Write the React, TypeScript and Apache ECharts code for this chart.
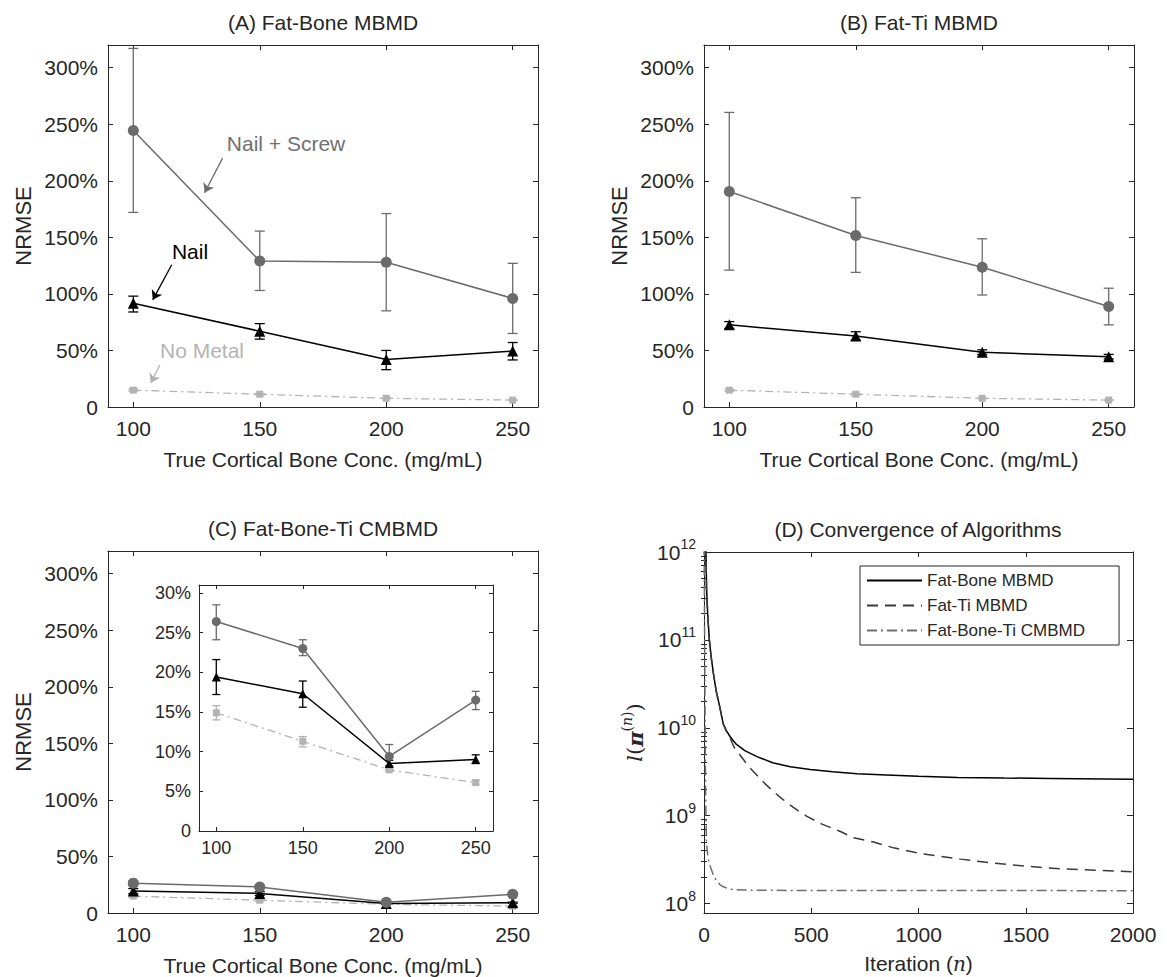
import React, { useEffect, useRef } from 'react';
import * as echarts from 'echarts';

// ---------- data ----------
const concentrations = [100, 150, 200, 250];
const pctTicks = [0, 50, 100, 150, 200, 250, 300];
const insetTicks = [0, 5, 10, 15, 20, 25, 30];
const logMajorTicks = [1e8, 1e9, 1e10, 1e11, 1e12];

// (A) Fat-Bone MBMD  (NRMSE %)
const aNailScrew = [244.5, 129, 128, 96];
const aNailScrewLow = [172, 103, 85, 65];
const aNailScrewHigh = [317, 155.5, 171, 127];
const aNail = [91.8, 67, 42, 49.5];
const aNailLow = [84, 60, 33, 41.6];
const aNailHigh = [98, 73.7, 50, 57];
const aNoMetal = [14.9, 11.3, 7.7, 6.1];
const aNoMetalLow = [14.0, 10.6, 7.4, 5.9];
const aNoMetalHigh = [15.8, 11.9, 8.0, 6.4];

// (B) Fat-Ti MBMD
const bNailScrew = [190.5, 151.6, 123.6, 88.8];
const bNailScrewLow = [121, 119, 99, 72.6];
const bNailScrewHigh = [260.4, 185, 148.7, 105];
const bNail = [72.6, 62.8, 48.4, 44.5];
const bNailLow = [69.5, 59, 46.5, 42.5];
const bNailHigh = [75.5, 66.5, 50.5, 46.5];
const bNoMetal = [14.9, 11.3, 7.7, 6.1];
const bNoMetalLow = [14.0, 10.6, 7.4, 5.9];
const bNoMetalHigh = [15.8, 11.9, 8.0, 6.4];

// (C) Fat-Bone-Ti CMBMD
const cNailScrew = [26.4, 23.0, 9.4, 16.5];
const cNailScrewLow = [24.1, 22.1, 7.8, 15.3];
const cNailScrewHigh = [28.5, 24.1, 10.9, 17.6];
const cNail = [19.4, 17.3, 8.5, 9.0];
const cNailLow = [17.2, 15.6, 8.2, 8.5];
const cNailHigh = [21.6, 18.9, 8.9, 9.6];
const cNoMetal = [14.9, 11.3, 7.7, 6.1];
const cNoMetalLow = [14.0, 10.6, 7.5, 5.9];
const cNoMetalHigh = [15.8, 11.9, 8.0, 6.4];

// (D) Convergence: [iteration, objective]
const fatBoneConv: [number, number][] = [
  [0, 2e12], [9, 1e12], [12, 3.8e11], [18, 1.8e11], [25, 1e11], [33, 6.5e10], [43, 4.3e10],
  [57, 2.6e10], [72, 1.8e10], [90, 1.1e10], [105, 9.2e9], [122, 7.9e9], [150, 6.5e9],
  [190, 5.5e9], [247, 4.7e9], [320, 4.0e9], [402, 3.6e9], [495, 3.35e9], [600, 3.15e9],
  [714, 3.0e9], [850, 2.9e9], [1000, 2.8e9], [1182, 2.72e9], [1400, 2.68e9], [1617, 2.65e9],
  [2000, 2.6e9],
];
const fatTiConv: [number, number][] = [
  [0, 2e12], [9, 1e12], [12, 3.8e11], [18, 1.8e11], [25, 1e11], [33, 6.5e10], [43, 4.3e10],
  [57, 2.6e10], [72, 1.8e10], [90, 1.1e10], [105, 9.0e9], [122, 7.6e9], [140, 6.0e9],
  [168, 4.9e9], [205, 3.7e9], [246, 2.9e9], [285, 2.3e9], [324, 1.88e9], [360, 1.58e9],
  [402, 1.32e9], [440, 1.13e9], [480, 9.8e8], [550, 8.0e8], [636, 6.6e8], [697, 5.6e8],
  [791, 5.0e8], [884, 4.3e8], [1024, 3.65e8], [1196, 3.2e8], [1336, 2.9e8], [1508, 2.65e8],
  [1664, 2.48e8], [1850, 2.38e8], [2000, 2.3e8],
];
const fatBoneTiConv: [number, number][] = [
  [0, 2e12], [2, 3e11], [3, 1e11], [5, 1.5e10], [6, 5e9], [8, 1.5e9], [10, 7.5e8], [12, 5e8],
  [16, 3.8e8], [20, 3.2e8], [30, 2.6e8], [44, 2.1e8], [59, 1.8e8], [75, 1.63e8], [90, 1.55e8],
  [121, 1.45e8], [200, 1.42e8], [400, 1.41e8], [2000, 1.4e8],
];

// ---------- styling ----------
const FONT = 'Liberation Sans';
const AX = '#262626';
const NS_COLOR = '#6b6b6b';
const NAIL_COLOR = '#000000';
const NM_COLOR = '#b3b3b3';

const logMinorTicks: number[] = [];
for (let e = 8; e < 12; e++) for (let m = 2; m <= 9; m++) logMinorTicks.push(m * Math.pow(10, e));

function pctLabel(v: number) {
  return v === 0 ? '0' : `${v}%`;
}
function powLabel(v: number) {
  return `{b|10}{s|${Math.round(Math.log10(v))}}`;
}

function errRender(capHalf: number, color: string, width: number) {
  return (params: any, api: any) => {
    const x = api.value(0);
    const pLo = api.coord([x, api.value(1)]);
    const pHi = api.coord([x, api.value(2)]);
    const style = { stroke: color, lineWidth: width, fill: null };
    return {
      type: 'group',
      children: [
        { type: 'line', shape: { x1: pLo[0], y1: pLo[1], x2: pHi[0], y2: pHi[1] }, style },
        { type: 'line', shape: { x1: pLo[0] - capHalf, y1: pLo[1], x2: pLo[0] + capHalf, y2: pLo[1] }, style },
        { type: 'line', shape: { x1: pHi[0] - capHalf, y1: pHi[1], x2: pHi[0] + capHalf, y2: pHi[1] }, style },
      ],
    };
  };
}

function pairs(vals: number[]) {
  return concentrations.map((c, i) => [c, vals[i]]);
}
function errData(lo: number[], hi: number[]) {
  return concentrations.map((c, i) => [c, lo[i], hi[i]]);
}

type Group = { v: number[]; lo: number[]; hi: number[] };

function panelSeries(
  key: string, xi: number, yi: number,
  ns: Group, nail: Group, nm: Group,
  sz: { circle: number; tri: number; sq: number; cap: number },
  markLines?: Record<string, any>,
) {
  const defs = [
    { id: 'nm', g: nm, color: NM_COLOR, symbol: 'rect', size: sz.sq, lt: [8, 4, 2, 4] as any, w: 1.3 },
    { id: 'nail', g: nail, color: NAIL_COLOR, symbol: 'triangle', size: sz.tri, lt: 'solid', w: 1.5 },
    { id: 'ns', g: ns, color: NS_COLOR, symbol: 'circle', size: sz.circle, lt: 'solid', w: 1.5 },
  ];
  const out: any[] = [];
  defs.forEach((d) => {
    out.push({
      type: 'custom', name: `${key}-${d.id}-err`, xAxisIndex: xi, yAxisIndex: yi,
      renderItem: errRender(sz.cap, d.color, 1.3), data: errData(d.g.lo, d.g.hi),
      encode: { x: 0, y: [1, 2] }, z: 2, silent: true,
    });
    const s: any = {
      type: 'line', name: `${key}-${d.id}`, xAxisIndex: xi, yAxisIndex: yi,
      data: pairs(d.g.v), symbol: d.symbol, symbolSize: d.size, showSymbol: true,
      itemStyle: { color: d.color, borderWidth: 0 }, lineStyle: { color: d.color, width: d.w, type: d.lt },
      z: 3, silent: true,
    };
    if (markLines && markLines[d.id]) s.markLine = markLines[d.id];
    out.push(s);
  });
  return out;
}

function arrow(color: string, from: number[], to: number[]) {
  return {
    silent: true, symbol: ['none', 'arrow'], symbolSize: 9,
    label: { show: false }, lineStyle: { color, width: 1.3, type: 'solid' },
    data: [[{ coord: from }, { coord: to }]],
  };
}

// arrow coordinates (data space of panel A)
const nsArrow = [[135.3, 220], [128.2, 189.4]];
const nailArrow = [[115.2, 125.7], [107.7, 94.7]];
const nmArrow = [[110.5, 37.2], [106.9, 21.2]];

export default function App() {
  const ref = useRef<HTMLDivElement>(null);
  useEffect(() => {
    if (!ref.current) return;
    const chart = echarts.init(ref.current, undefined, { renderer: 'svg' });

    const grids = [
      { left: 108, top: 45, width: 430, height: 362 },
      { left: 704, top: 45, width: 430, height: 362 },
      { left: 108, top: 551, width: 430, height: 362 },
      { left: 704, top: 552, width: 429, height: 361 },
      { left: 199, top: 585, width: 294, height: 246, show: true, backgroundColor: '#fff', borderWidth: 0 },
    ];

    const xAxes: any[] = [];
    const yAxes: any[] = [];
    const axisLine = { show: true, onZero: false, lineStyle: { color: AX, width: 1 } };

    function addX(grid: number, o: any) {
      const tick: any = { inside: true, length: o.tickLen, lineStyle: { color: AX, width: 1 } };
      if (o.ticks) tick.customValues = o.ticks;
      const lab: any = { fontSize: o.fs, color: AX, fontFamily: FONT, margin: o.margin, formatter: (v: number) => String(v) };
      if (o.ticks) lab.customValues = o.ticks;
      const base: any = { type: 'value', gridIndex: grid, min: o.min, max: o.max, splitLine: { show: false }, axisLine };
      if (o.interval) base.interval = o.interval;
      const idx = xAxes.length;
      xAxes.push({
        ...base, position: 'bottom', axisTick: tick, axisLabel: lab,
        name: o.name, nameLocation: 'middle', nameGap: o.nameGap,
        nameTextStyle: { fontSize: 21, color: AX, fontFamily: FONT, rich: o.nameRich },
      });
      xAxes.push({ ...base, position: 'top', axisTick: tick, axisLabel: { show: false } });
      return idx;
    }

    function addY(grid: number, o: any) {
      const tick: any = { inside: true, length: o.tickLen, lineStyle: { color: AX, width: 1 } };
      if (o.ticks) tick.customValues = o.ticks;
      const lab: any = { fontSize: o.fs, color: AX, fontFamily: FONT, margin: o.margin, formatter: o.formatter, rich: o.rich };
      if (o.ticks) lab.customValues = o.ticks;
      const base: any = { type: o.type || 'value', gridIndex: grid, min: o.min, max: o.max, splitLine: { show: false }, axisLine };
      if (o.type === 'log') base.logBase = 10;
      const idx = yAxes.length;
      yAxes.push({
        ...base, position: 'left', axisTick: tick, axisLabel: lab,
        name: o.name, nameLocation: 'middle', nameGap: o.nameGap,
        nameTextStyle: { fontSize: 22, color: AX, fontFamily: FONT, rich: o.nameRich },
      });
      yAxes.push({ ...base, position: 'right', axisTick: tick, axisLabel: { show: false } });
      if (o.minorTicks) {
        const mt = { inside: true, length: 3, lineStyle: { color: AX, width: 1 }, customValues: o.minorTicks };
        yAxes.push({ ...base, position: 'left', axisLine: { show: false }, axisTick: mt, axisLabel: { show: false } });
        yAxes.push({ ...base, position: 'right', axisLine: { show: false }, axisTick: mt, axisLabel: { show: false } });
      }
      return idx;
    }

    const xName = 'True Cortical Bone Conc. (mg/mL)';
    const xOpt = { min: 90, max: 260, ticks: concentrations, fs: 21, margin: 11, tickLen: 5, name: xName, nameGap: 42 };
    const yOpt = { min: 0, max: 320, ticks: pctTicks, fs: 21, margin: 10, tickLen: 5, formatter: pctLabel, name: 'NRMSE', nameGap: 74 };

    const xA = addX(0, xOpt); const yA = addY(0, yOpt);
    const xB = addX(1, xOpt); const yB = addY(1, yOpt);
    const xC = addX(2, xOpt); const yC = addY(2, yOpt);
    const xD = addX(3, {
      min: 0, max: 2000, interval: 500, fs: 21, margin: 11, tickLen: 5,
      name: 'Iteration ({i|n})', nameGap: 40,
      nameRich: { i: { fontStyle: 'italic', fontFamily: 'DejaVu Serif', fontSize: 20, color: AX } },
    });
    const supRich = {
      b: { fontSize: 21, fontFamily: FONT, color: AX, lineHeight: 30 },
      s: { fontSize: 14, fontFamily: FONT, color: AX, lineHeight: 14, verticalAlign: 'top' },
    };
    const yD = addY(3, {
      type: 'log', min: 7.8e7, max: 1e12, ticks: logMajorTicks, minorTicks: logMinorTicks, fs: 21, margin: 8, tickLen: 6,
      formatter: powLabel, rich: supRich,
      name: '{i|l}{n|(}{p|π}{si|(}{sn|n}{si|)}{n|)}', nameGap: 54,
      nameRich: {
        i: { fontStyle: 'italic', fontFamily: 'DejaVu Serif', fontSize: 21, color: AX, lineHeight: 30 },
        n: { fontFamily: 'DejaVu Serif', fontSize: 21, color: AX, lineHeight: 30 },
        p: { fontStyle: 'italic', fontWeight: 'bold', fontFamily: 'DejaVu Serif', fontSize: 21, color: AX, lineHeight: 30 },
        si: { fontFamily: 'DejaVu Serif', fontSize: 14, color: AX, lineHeight: 14, verticalAlign: 'top' },
        sn: { fontStyle: 'italic', fontFamily: 'DejaVu Serif', fontSize: 14, color: AX, lineHeight: 14, verticalAlign: 'top' },
      },
    });
    const xI = addX(4, { min: 90, max: 260, ticks: concentrations, fs: 18, margin: 8, tickLen: 4 });
    const yI = addY(4, { min: 0, max: 31, ticks: insetTicks, fs: 18, margin: 8, tickLen: 4, formatter: pctLabel });

    const big = { circle: 11, tri: 11, sq: 7, cap: 5 };
    const small = { circle: 9, tri: 9, sq: 7, cap: 4 };

    const series: any[] = [
      ...panelSeries('A', xA, yA,
        { v: aNailScrew, lo: aNailScrewLow, hi: aNailScrewHigh },
        { v: aNail, lo: aNailLow, hi: aNailHigh },
        { v: aNoMetal, lo: aNoMetalLow, hi: aNoMetalHigh }, big,
        {
          ns: arrow(NS_COLOR, nsArrow[0], nsArrow[1]),
          nail: arrow(NAIL_COLOR, nailArrow[0], nailArrow[1]),
          nm: arrow(NM_COLOR, nmArrow[0], nmArrow[1]),
        }),
      ...panelSeries('B', xB, yB,
        { v: bNailScrew, lo: bNailScrewLow, hi: bNailScrewHigh },
        { v: bNail, lo: bNailLow, hi: bNailHigh },
        { v: bNoMetal, lo: bNoMetalLow, hi: bNoMetalHigh }, big),
      ...panelSeries('C', xC, yC,
        { v: cNailScrew, lo: cNailScrewLow, hi: cNailScrewHigh },
        { v: cNail, lo: cNailLow, hi: cNailHigh },
        { v: cNoMetal, lo: cNoMetalLow, hi: cNoMetalHigh }, big),
      ...panelSeries('I', xI, yI,
        { v: cNailScrew, lo: cNailScrewLow, hi: cNailScrewHigh },
        { v: cNail, lo: cNailLow, hi: cNailHigh },
        { v: cNoMetal, lo: cNoMetalLow, hi: cNoMetalHigh }, small),
      {
        type: 'line', name: 'Fat-Bone MBMD', xAxisIndex: xD, yAxisIndex: yD, data: fatBoneConv,
        symbol: 'none', showSymbol: false, lineStyle: { color: '#000', width: 1.5, type: 'solid' },
        itemStyle: { color: '#000' }, z: 3, silent: true,
      },
      {
        type: 'line', name: 'Fat-Ti MBMD', xAxisIndex: xD, yAxisIndex: yD, data: fatTiConv,
        symbol: 'none', showSymbol: false, lineStyle: { color: '#3a3a3a', width: 1.5, type: [11, 7] },
        itemStyle: { color: '#3a3a3a' }, z: 3, silent: true,
      },
      {
        type: 'line', name: 'Fat-Bone-Ti CMBMD', xAxisIndex: xD, yAxisIndex: yD, data: fatBoneTiConv,
        symbol: 'none', showSymbol: false, lineStyle: { color: '#6e6e6e', width: 1.5, type: [10, 4, 2, 4] },
        itemStyle: { color: '#6e6e6e' }, z: 3, silent: true,
      },
    ];

    const titleStyle = (text: string) => ({ text, fontSize: 21, fontFamily: FONT, fill: AX, align: 'center', verticalAlign: 'middle' });
    const graphic: any[] = [
      { type: 'text', x: 323, y: 22, style: titleStyle('(A) Fat-Bone MBMD') },
      { type: 'text', x: 919, y: 22, style: titleStyle('(B) Fat-Ti MBMD') },
      { type: 'text', x: 323, y: 528, style: titleStyle('(C) Fat-Bone-Ti CMBMD') },
      { type: 'text', x: 918, y: 529, style: titleStyle('(D) Convergence of Algorithms') },
      { type: 'text', x: 286, y: 143, z: 10, style: { text: 'Nail + Screw', fontSize: 21, fontFamily: FONT, fill: '#707070', align: 'center', verticalAlign: 'middle' } },
      { type: 'text', x: 190, y: 251, z: 10, style: { text: 'Nail', fontSize: 21, fontFamily: FONT, fill: '#000', align: 'center', verticalAlign: 'middle' } },
      { type: 'text', x: 202, y: 350, z: 10, style: { text: 'No Metal', fontSize: 21, fontFamily: FONT, fill: NM_COLOR, align: 'center', verticalAlign: 'middle' } },
    ];

    chart.setOption({
      animation: false,
      backgroundColor: '#ffffff',
      textStyle: { fontFamily: FONT },
      grid: grids,
      xAxis: xAxes,
      yAxis: yAxes,
      series,
      graphic,
      legend: {
        data: ['Fat-Bone MBMD', 'Fat-Ti MBMD', 'Fat-Bone-Ti CMBMD'],
        orient: 'vertical', left: 860, top: 566,
        itemWidth: 55, itemHeight: 12, itemGap: 8,
        padding: [6, 34, 6, 6],
        borderColor: AX, borderWidth: 1, backgroundColor: '#fff',
        itemStyle: { opacity: 0 },
        textStyle: { fontSize: 17, color: AX, fontFamily: FONT },
        selectedMode: false,
      },
    });
    return () => chart.dispose();
  }, []);
  return <div ref={ref} style={{ position: 'absolute', left: 0, top: 0, width: 1167, height: 977 }} />;
}
